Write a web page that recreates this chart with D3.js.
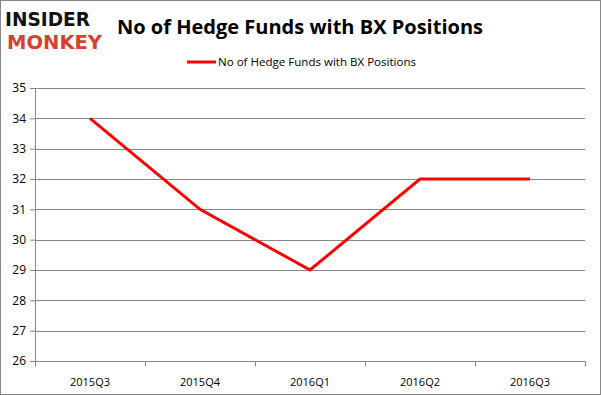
<html><head>
  <script src="https://d3js.org/d3.v7.min.js"></script>
  <style>
    body { margin: 0; background: #fff; }
    text { font-family: 'Open Sans', 'DejaVu Sans', sans-serif; }
  </style>
</head>
<body>
  <script>
    // chart data
    const quarters = ["2015Q3", "2015Q4", "2016Q1", "2016Q2", "2016Q3"]
    const funds = [34, 31, 29, 32, 32]
    const yTicks = [26, 27, 28, 29, 30, 31, 32, 33, 34, 35]
    const seriesName = "No of Hedge Funds with BX Positions"

    const svg = d3.select("body").append("svg")
                  .attr("width", 601)
                  .attr("height", 395)

    // outer frame
    svg.append("rect")
       .attr("x", 0.5).attr("y", 0.5)
       .attr("width", 600).attr("height", 394)
       .style("fill", "#fff").style("stroke", "#888")

    // logo
    svg.append("text").text("INSIDER")
       .attr("x", 5).attr("y", 26)
       .attr("textLength", 85).attr("lengthAdjust", "spacingAndGlyphs")
       .style("font-family", "'DejaVu Sans'").style("font-weight", "bold")
       .style("font-size", "19px").style("fill", "#111")
    svg.append("text").text("MONKEY")
       .attr("x", 7).attr("y", 49)
       .attr("textLength", 95).attr("lengthAdjust", "spacingAndGlyphs")
       .style("font-family", "'DejaVu Sans'").style("font-weight", "bold")
       .style("font-size", "19px").style("fill", "#d9402b")

    // title
    svg.append("text").text(seriesName)
       .attr("x", 300).attr("y", 34)
       .attr("text-anchor", "middle")
       .attr("textLength", 366).attr("lengthAdjust", "spacingAndGlyphs")
       .style("font-size", "20px").style("font-weight", "bold").style("fill", "#000")

    // legend
    svg.append("line")
       .attr("x1", 187).attr("x2", 216).attr("y1", 62).attr("y2", 62)
       .style("stroke", "red").style("stroke-width", 3)
    svg.append("text").text(seriesName)
       .attr("x", 218).attr("y", 66)
       .attr("textLength", 198).attr("lengthAdjust", "spacingAndGlyphs")
       .style("font-size", "11px").style("fill", "#000")

    const margin = {top: 88, left: 35, right: 16, bottom: 34}
    const chartWidth = 601 - margin.left - margin.right
    const chartHeight = 395 - margin.top - margin.bottom

    const xScale = d3.scaleBand().domain(quarters).range([0, chartWidth])
    const yScale = d3.scaleLinear().domain([26, 35]).range([chartHeight, 0])

    const chart = svg.append("g")
                     .attr("transform", `translate(${margin.left},${margin.top})`)

    // gridlines
    chart.append("g").attr("class", "gridlines")
         .selectAll("line").data(yTicks).join("line")
         .attr("x1", 0).attr("x2", chartWidth)
         .attr("y1", d => Math.round(yScale(d)) + 0.5)
         .attr("y2", d => Math.round(yScale(d)) + 0.5)
         .style("stroke", "#888").style("stroke-width", 1)

    // y axis
    const leftAxis = d3.axisLeft(yScale).tickValues(yTicks).tickSize(5).tickPadding(4)
    const yAxis = chart.append("g").call(leftAxis)
    yAxis.select(".domain").attr("d", `M0.5,${chartHeight}V0`).style("stroke", "#888")
    yAxis.selectAll(".tick line").style("stroke", "#888")
    yAxis.selectAll("text").style("font-size", "12px").style("fill", "#000")
         .style("font-family", "'Open Sans'")

    // x axis
    const xAxisTicks = d3.range(quarters.length + 1).map(i => i * xScale.step())
    const xAxis = chart.append("g").attr("transform", `translate(0,${Math.round(chartHeight) + 0.5})`)
    xAxis.append("line").attr("x1", 0).attr("x2", chartWidth)
         .style("stroke", "#888")
    xAxis.selectAll("line.tick").data(xAxisTicks).join("line")
         .attr("class", "tick")
         .attr("x1", d => Math.round(d) + 0.5).attr("x2", d => Math.round(d) + 0.5)
         .attr("y1", 0).attr("y2", 5)
         .style("stroke", "#888")
    xAxis.selectAll("text").data(quarters).join("text")
         .text(d => d)
         .attr("x", d => xScale(d) + xScale.bandwidth() / 2)
         .attr("y", 24)
         .attr("text-anchor", "middle")
         .style("font-size", "11px").style("fill", "#000")

    // line
    const line = d3.line()
                   .x((d, i) => xScale(quarters[i]) + xScale.bandwidth() / 2)
                   .y(d => yScale(d))
    chart.append("path").datum(funds)
         .attr("d", line)
         .style("fill", "none").style("stroke", "red").style("stroke-width", 3)
  </script>
</body></html>
